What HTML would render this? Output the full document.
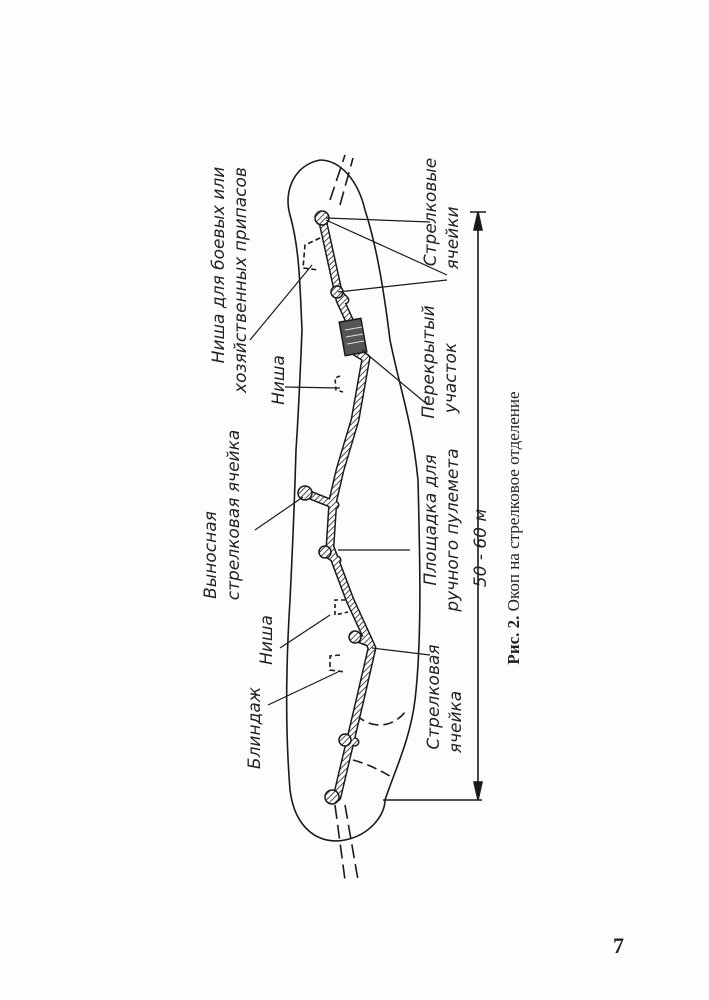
<!DOCTYPE html>
<html><head><meta charset="utf-8"><style>
html,body{margin:0;padding:0;background:#fff;}
svg{display:block}
.t{font-family:"DejaVu Sans","Liberation Sans",sans-serif;font-style:italic;font-size:17px;fill:#222}
</style></head><body>
<svg width="709" height="1000" viewBox="0 0 709 1000" xmlns="http://www.w3.org/2000/svg">
<defs>
<pattern id="h" width="4" height="4" patternUnits="userSpaceOnUse" patternTransform="rotate(45)">
<rect width="4" height="4" fill="#fff"/><line x1="0" y1="0" x2="0" y2="4" stroke="#222" stroke-width="1.6"/>
</pattern>
</defs>
<rect width="709" height="1000" fill="#fdfdfd"/>
<g fill="none" stroke="#1a1a1a" stroke-width="1.6">
<path d="M320,160 C295,165 283,190 290,215 C300,250 300,290 302,330 C300,380 298,420 296,450 C294,520 292,560 290,600 C285,680 286,740 290,790 C295,830 320,845 345,840 C370,835 385,815 385,800 C395,770 410,740 415,700 C422,640 420,560 418,480 C412,420 400,390 390,340 C385,300 378,250 365,210 C358,180 340,160 320,160 Z"/>
<path d="M330,200 L345,155 M340,205 L353,158" stroke-dasharray="14,6"/>
<path d="M335,805 L345,880 M345,805 L358,880" stroke-dasharray="14,6"/>
<path d="M478,212 L478,800 M470,212 L486,212 M383,800 L482,800"/>
<path d="M478,212 L474,230 L482,230 Z M478,800 L474,782 L482,782 Z" fill="#1a1a1a"/>
<path d="M320,238 L305,245 L303,268 L318,270" stroke-dasharray="5,3"/>
<path d="M340,376 L335,378 L336,390 L343,392" stroke-dasharray="4,3"/>
<path d="M345,600 L335,600 L335,615 L348,612" stroke-dasharray="4,3"/>
<path d="M340,655 L330,656 L330,670 L345,672" stroke-dasharray="5,3"/>
<path d="M356,715 C375,732 395,725 405,712" stroke-dasharray="10,5"/>
<path d="M353,760 C372,765 388,775 393,778" stroke-dasharray="10,5"/>
</g>
<!-- trench -->
<g fill="none" stroke-linejoin="round" stroke-linecap="round">
<path id="tr" d="M322,218 L340,300 L350,322 M356,352 L366,358 L355,420 L340,470 L333,500 L330,547 L350,600 L372,648 L360,700 L337,797 M305,493 L335,505 M325,552 L337,560 M337,292 L345,300 M355,637 L368,642 M345,740 L355,742" stroke="#1a1a1a" stroke-width="9"/>
<path d="M322,218 L340,300 L350,322 M356,352 L366,358 L355,420 L340,470 L333,500 L330,547 L350,600 L372,648 L360,700 L337,797 M305,493 L335,505 M325,552 L337,560 M337,292 L345,300 M355,637 L368,642 M345,740 L355,742" stroke="url(#h)" stroke-width="6"/>
</g>
<g stroke="#1a1a1a" stroke-width="1.5" fill="url(#h)">
<circle cx="322" cy="218" r="7"/>
<circle cx="305" cy="493" r="7"/>
<circle cx="325" cy="552" r="6"/>
<circle cx="337" cy="292" r="6"/>
<circle cx="355" cy="637" r="6"/>
<circle cx="345" cy="740" r="6"/>
<circle cx="332" cy="797" r="7"/>
<rect x="342" y="320" width="22" height="34" fill="#555" transform="rotate(-10 353 337)"/>
</g>
<g stroke="#ddd" stroke-width="1"><path d="M345,330 L362,327 M346,337 L363,334 M347,344 L364,341"/></g>
<g stroke="#1a1a1a" stroke-width="1.2" fill="none">
<path d="M326,218 L430,222 M326,220 L447,275 M338,292 L447,280"/>
<path d="M250,340 L312,265"/>
<path d="M285,387 L340,388"/>
<path d="M362,350 L428,405"/>
<path d="M255,530 L303,497"/>
<path d="M338,550 L410,550"/>
<path d="M280,648 L330,615"/>
<path d="M268,705 L338,672"/>
<path d="M372,648 L430,655"/>
</g>
<g class="t">
<text transform="translate(224,265) rotate(-90)" text-anchor="middle">Ниша для боевых или</text>
<text transform="translate(246,280) rotate(-90)" text-anchor="middle">хозяйственных припасов</text>
<text transform="translate(436,212) rotate(-90)" text-anchor="middle">Стрелковые</text>
<text transform="translate(458,238) rotate(-90)" text-anchor="middle">ячейки</text>
<text transform="translate(284,380) rotate(-90)" text-anchor="middle">Ниша</text>
<text transform="translate(434,362) rotate(-90)" text-anchor="middle">Перекрытый</text>
<text transform="translate(456,378) rotate(-90)" text-anchor="middle">участок</text>
<text transform="translate(216,555) rotate(-90)" text-anchor="middle">Выносная</text>
<text transform="translate(239,515) rotate(-90)" text-anchor="middle">стрелковая ячейка</text>
<text transform="translate(436,520) rotate(-90)" text-anchor="middle">Площадка для</text>
<text transform="translate(458,530) rotate(-90)" text-anchor="middle">ручного пулемета</text>
<text transform="translate(486,548) rotate(-90)" text-anchor="middle">50 - 60 м</text>
<text transform="translate(272,640) rotate(-90)" text-anchor="middle">Ниша</text>
<text transform="translate(260,728) rotate(-90)" text-anchor="middle">Блиндаж</text>
<text transform="translate(439,697) rotate(-90)" text-anchor="middle">Стрелковая</text>
<text transform="translate(461,722) rotate(-90)" text-anchor="middle">ячейка</text>
</g>
<text transform="translate(519,528) rotate(-90)" text-anchor="middle" style="font-family:'Liberation Serif',serif;font-size:17px;fill:#222"><tspan font-weight="bold">Рис. 2.</tspan> Окоп на стрелковое отделение</text>
<text x="613" y="953" style="font-family:'Liberation Serif',serif;font-size:22px;font-weight:bold;fill:#222">7</text>
</svg>
</body></html>
